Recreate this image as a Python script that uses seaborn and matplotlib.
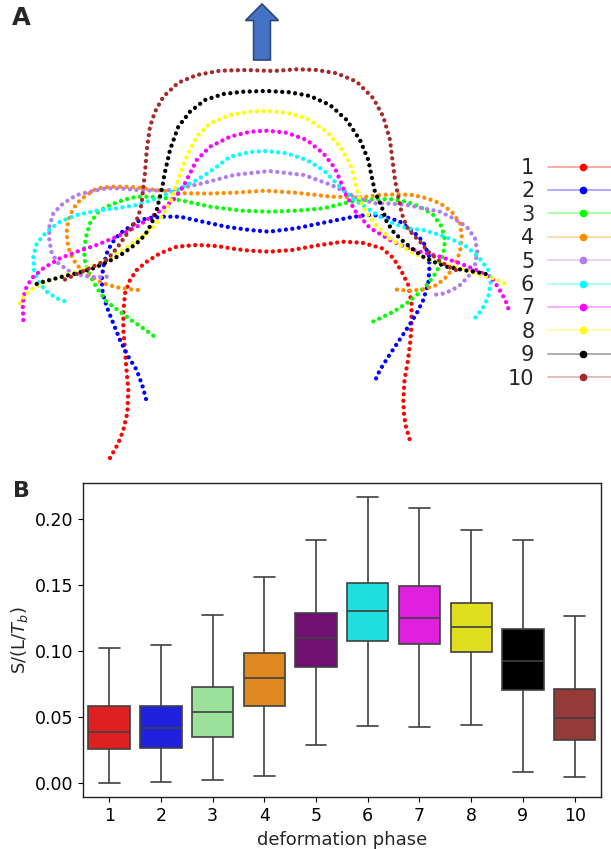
import numpy as np
import pandas as pd
import matplotlib
matplotlib.use("Agg")
import matplotlib.pyplot as plt
from matplotlib.lines import Line2D
from matplotlib.patches import FancyArrow
from matplotlib.colors import to_rgba
import seaborn as sns

# ---------------- data ----------------
phases = ["1", "2", "3", "4", "5", "6", "7", "8", "9", "10"]
shape_colors = ["red", "blue", "lime", "darkorange", "#b07cf2",
                "cyan", "magenta", "yellow", "black", "brown"]
box_colors = ["red", "blue", "lightgreen", "darkorange", "purple",
              "cyan", "magenta", "yellow", "black", "brown"]

# panel B box statistics
whisker_low = [0.0, 0.0008, 0.0028, 0.0053, 0.0291, 0.0435, 0.0427, 0.0440, 0.0088, 0.0048]
q1 = [0.0258, 0.0271, 0.0349, 0.0589, 0.0882, 0.1075, 0.1052, 0.0996, 0.0705, 0.0329]
median = [0.0387, 0.0417, 0.0539, 0.0796, 0.1097, 0.1302, 0.1252, 0.1181, 0.0930, 0.0493]
q3 = [0.0584, 0.0584, 0.0728, 0.0986, 0.1292, 0.1520, 0.1492, 0.1368, 0.1168, 0.0713]
whisker_high = [0.1027, 0.1049, 0.1274, 0.1563, 0.1843, 0.2172, 0.2086, 0.1922, 0.1843, 0.1264]

# panel A outlines (image coordinates, y downwards), left end -> right end
shape_1 = [(110, 458), (118.3, 443.3), (123.3, 430), (127.3, 413.3), (128.3, 390), (126.5, 370),
           (125, 350), (123.3, 330), (123.5, 310), (125, 293.3), (130, 280), (136.7, 270),
           (146.7, 261.7), (160, 253.3), (176.7, 246.7), (196.7, 245), (216.7, 246), (235, 249),
           (250, 250.7), (269, 251.7), (292, 250), (320, 245), (343, 241.7), (362, 242.7),
           (382, 248.3), (393.3, 258), (401.7, 271.7), (408.3, 285), (411.5, 303), (411.5, 323),
           (410.5, 340), (408, 360), (404.5, 380), (403.3, 400), (404, 415), (406, 427), (410.7, 443)]
shape_2 = [(146, 399), (142.7, 386.7), (136.7, 370), (128.3, 356.7), (120, 340), (113.3, 323.3),
           (106.7, 306.7), (102.7, 293.3), (101.7, 280), (103.3, 266.7), (106.7, 253.3), (111.7, 243.3),
           (120, 233.3), (130, 226.7), (140, 220), (150, 218), (163.7, 216.7), (180, 216.7),
           (194.9, 220), (226, 226.7), (249.4, 230), (269, 231.7), (296, 228.3), (323.5, 222.7),
           (350.7, 217.3), (366.3, 215), (380, 215.5), (390, 218.3), (400, 221.7), (413.3, 231.7),
           (423.3, 241.7), (429.3, 256.7), (429.3, 270), (428.3, 283.3), (423.3, 300), (416.7, 313.3),
           (408.3, 326.7), (398.3, 341.7), (388.3, 356.7), (380, 370), (375, 380.7)]
shape_3 = [(153.3, 335.7), (143.3, 328.3), (133.3, 321.7), (120, 311.7), (106.7, 301.7), (98.3, 290),
           (93.3, 281.7), (88.3, 271.7), (85, 261.7), (84, 250), (86, 236.7), (90, 223.3),
           (98.3, 211.7), (110, 205), (123.3, 200), (136.7, 196.7), (150, 196.7), (165, 198),
           (179.3, 200), (210.4, 206.7), (241.6, 210.7), (269, 211.7), (296, 210.7), (323.5, 208.3),
           (350.7, 201.7), (374, 199.3), (393.3, 199.3), (406.7, 201.7), (420, 206.7), (433.3, 215),
           (441.7, 226.7), (445, 240), (443.3, 253.3), (439.3, 266.7), (433.3, 276.7), (426.7, 285),
           (416.7, 295), (406.7, 303.3), (393.3, 311.7), (380, 318.3), (372.7, 321.7)]
shape_4 = [(137.7, 290), (128.3, 289), (116.7, 287.3), (103.3, 283.3), (90, 276), (76.7, 265),
           (70, 253.3), (67.3, 241.7), (66.7, 228.3), (70, 215), (76.7, 203.3), (86.7, 195),
           (96.7, 188.3), (110, 186.7), (123.3, 186.7), (136.7, 187.3), (150, 189.3), (165, 191),
           (183, 193.3), (210, 193.5), (234, 192.7), (265, 190.7), (296, 192.7), (331, 196.7),
           (362, 197.3), (380, 195), (396.7, 194.3), (413.3, 195), (426.7, 198.3), (440, 203.3),
           (451.7, 211.7), (460, 223.3), (461.7, 236.7), (460, 251.7), (455, 265), (446.7, 276.7),
           (436.7, 285), (423.3, 289.3), (410, 290.7), (393.3, 289.3)]
shape_5 = [(106.7, 276.7), (96.7, 277.3), (83.3, 276), (70, 271.7), (58.3, 263.3), (51.7, 253.3),
           (49.3, 240), (49.3, 226.7), (53.3, 213.3), (63.3, 203.3), (76.7, 195), (90, 191.7),
           (106.7, 188.3), (122, 188.5), (144, 190.7), (171.5, 190), (202.6, 183.3), (233.8, 175),
           (269, 171), (304, 175), (331.3, 185), (354.6, 196.7), (374, 203.3), (390, 203.5),
           (406.7, 205), (423.3, 208.3), (440, 211.7), (453.3, 218.3), (466.7, 226.7), (475, 238.3),
           (477.3, 251.7), (475, 265), (468.3, 276.7), (458.3, 286.7), (445, 293.3), (433.3, 295),
           (430, 294)]
shape_6 = [(64.3, 301), (56.7, 298.3), (46.7, 291.7), (38.3, 281.7), (34, 270), (33.3, 256.7),
           (36.7, 243.3), (46.7, 231.7), (60, 221.7), (76.7, 215), (96.7, 210.7), (116.7, 208.3),
           (136.7, 205), (156.7, 198.3), (176.7, 190), (196.7, 180), (210, 171.7), (230, 156.7),
           (250, 152), (266.7, 151), (286.7, 153.3), (306.7, 160), (323.3, 170), (333.3, 180),
           (343, 190), (356, 201), (370, 210), (380, 216.7), (393.3, 223.3), (406.7, 228.3),
           (423.3, 230), (440, 235), (453.3, 240), (466.7, 246.7), (478.3, 256.7), (488.3, 270),
           (490.7, 283.3), (488.3, 296.7), (481.7, 310), (471.7, 321.7)]
shape_7 = [(23.3, 320), (22.7, 303.3), (25, 290), (31.7, 278.3), (43.3, 268.3), (60, 258.3),
           (76.7, 251.7), (96.7, 245), (116.7, 236.7), (136.7, 226.7), (156.7, 213.3), (173.3, 200),
           (183.3, 186.7), (190, 173.3), (196.7, 160), (210, 146.7), (230, 136.7), (250, 131.7),
           (266.7, 130.7), (286.7, 132.7), (306.7, 140), (323.3, 153.3), (335, 168.3), (340, 180),
           (346, 195), (356, 212), (370, 228), (390, 240), (405, 247), (420, 251.7), (440, 256.7),
           (460, 263.3), (480, 271.7), (493.3, 280), (501.7, 293.3), (506.7, 303.3), (510, 314)]
shape_8 = [(20, 303.3), (23.3, 296.7), (33.3, 288.3), (46.7, 281.7), (66.7, 275), (86.7, 268.3),
           (106.7, 260), (123.3, 250), (140, 238.3), (153.3, 226.7), (161.7, 216.7), (170, 203.3),
           (175, 188.3), (181.7, 170), (186.7, 156.7), (196.7, 136.7), (210, 123.3), (230, 115),
           (250, 111.7), (266.7, 111), (286.7, 112.7), (306.7, 118.3), (326.7, 131.7), (340, 146.7),
           (350, 163.3), (354, 176.7), (358, 195), (366, 212), (376, 225), (390, 238.3), (400, 245),
           (413.3, 253.3), (430, 260), (446.7, 265), (463.3, 269.3), (480, 275), (493.3, 278.3),
           (503.3, 282.7), (509.3, 286)]
shape_9 = [(36.7, 284), (43.3, 281.7), (60, 277.3), (76.7, 273.3), (93.3, 268.3), (110, 260.7),
           (123.3, 253.3), (136.7, 243.3), (145, 235), (151.7, 223.3), (156.7, 210), (160, 196.7),
           (162.7, 185), (164.5, 174), (170, 150), (178.3, 126.7), (190, 111.7), (205, 100),
           (223.3, 94), (243.3, 91.7), (266.7, 91), (290, 92.3), (310, 96), (330, 105),
           (346.7, 120), (360, 140), (368.3, 160), (371.7, 176.7), (375, 192), (381.7, 206.7),
           (386.7, 221.7), (393.3, 231.7), (401.7, 240), (411.7, 248.3), (421.7, 256), (433.3, 261.7),
           (446.7, 266.7), (463.3, 270), (480, 272.7), (490, 275)]
shape_10 = [(65, 279.5), (78.3, 273.3), (91.7, 267.3), (106.7, 260), (116.7, 248.3), (125, 236.7),
            (133.3, 225), (138.3, 216.7), (141.7, 203.3), (143.3, 186.7), (145, 173.3), (146.7, 150),
            (150, 126.7), (155, 111.7), (163.3, 96.7), (178.3, 82.7), (196.7, 75), (220, 70.7),
            (246.7, 70), (273.3, 71), (296.7, 69.3), (316.7, 70), (336.7, 73.3), (356.7, 81.7),
            (373.3, 98.3), (383.3, 116.7), (390, 140), (393.3, 166.7), (395, 180), (398.3, 196.7),
            (401.7, 213.3), (406.7, 226.7), (413.3, 235), (420, 241.7), (428.3, 251.7), (438.3, 260),
            (448.3, 266.7), (459.3, 271.5)]
shapes = [shape_1, shape_2, shape_3, shape_4, shape_5,
          shape_6, shape_7, shape_8, shape_9, shape_10]

# ---------------- figure ----------------
sns.set_style("ticks")
plt.rcParams["font.family"] = ["DejaVu Sans"]
W, H = 611, 849
fig = plt.figure(figsize=(W / 100, H / 100), dpi=100)

# panel A
a_h = 480
axA = fig.add_axes([0, 1 - a_h / H, 1, a_h / H])
df_shape = pd.concat(
    [pd.DataFrame({"phase": p, "order": np.arange(len(s)),
                   "x": [pt[0] for pt in s], "y": [pt[1] for pt in s]})
     for p, s in zip(phases, shapes)], ignore_index=True)
for p, c in zip(phases, shape_colors):
    sub = df_shape[df_shape["phase"] == p]
    sns.lineplot(data=sub, x="x", y="y", sort=False, estimator=None, color=c,
                 linewidth=3.1, linestyle=(0, (0.01, 1.5)), dash_capstyle="round",
                 ax=axA)
axA.set_xlim(0, W)
axA.set_ylim(a_h, 0)
axA.set_axis_off()

axA.add_patch(FancyArrow(262, 60, 0, -56, width=16.8, head_width=33, head_length=16.5,
                         length_includes_head=True, facecolor="#4472c4",
                         edgecolor="#2f4677", linewidth=1.2))

handles = [Line2D([0], [0], color=to_rgba(c, 0.35), lw=1.3, marker="o", markersize=4.5,
                  markerfacecolor=c, markeredgecolor=c) for c in shape_colors]
leg = axA.legend(handles, phases, loc="upper right", bbox_to_anchor=(617 / W, 1 - 158 / H),
                 bbox_transform=fig.transFigure, frameon=False, fontsize=15,
                 markerfirst=False, handlelength=3.3, handletextpad=0.67,
                 labelspacing=0.163, borderpad=0, borderaxespad=0, numpoints=1)

fig.text(12 / W, 1 - 25.3 / H, "A", fontsize=17.5, fontweight="bold", va="baseline")
fig.text(12.5 / W, 1 - 497.3 / H, "B", fontsize=16, fontweight="bold", va="baseline")

# panel B
left, right, top, bottom = 83.3, 600.5, 482.7, 797.3
axB = fig.add_axes([left / W, 1 - bottom / H, (right - left) / W, (bottom - top) / H])
df_box = pd.DataFrame({
    "phase": np.repeat(phases, 5),
    "value": np.ravel(np.column_stack([whisker_low, q1, median, q3, whisker_high])),
})
sns.boxplot(data=df_box, x="phase", y="value", hue="phase", order=phases, hue_order=phases,
            palette=dict(zip(phases, box_colors)), legend=False, whis=(0, 100),
            width=0.8, linecolor="0.25", linewidth=1.2, ax=axB)
axB.set_ylim(-0.0106, 0.2277)
axB.set_yticks([0.0, 0.05, 0.10, 0.15, 0.20])
axB.set_yticklabels(["0.00", "0.05", "0.10", "0.15", "0.20"])
axB.tick_params(labelsize=12.5, colors="black")
axB.set_xlabel("deformation phase", fontsize=13)
axB.set_ylabel("S/(L/$T_b$)", fontsize=13)
for sp in axB.spines.values():
    sp.set_visible(True)
    sp.set_color("#222222")
    sp.set_linewidth(1.0)

fig.savefig("out.png", dpi=100)
